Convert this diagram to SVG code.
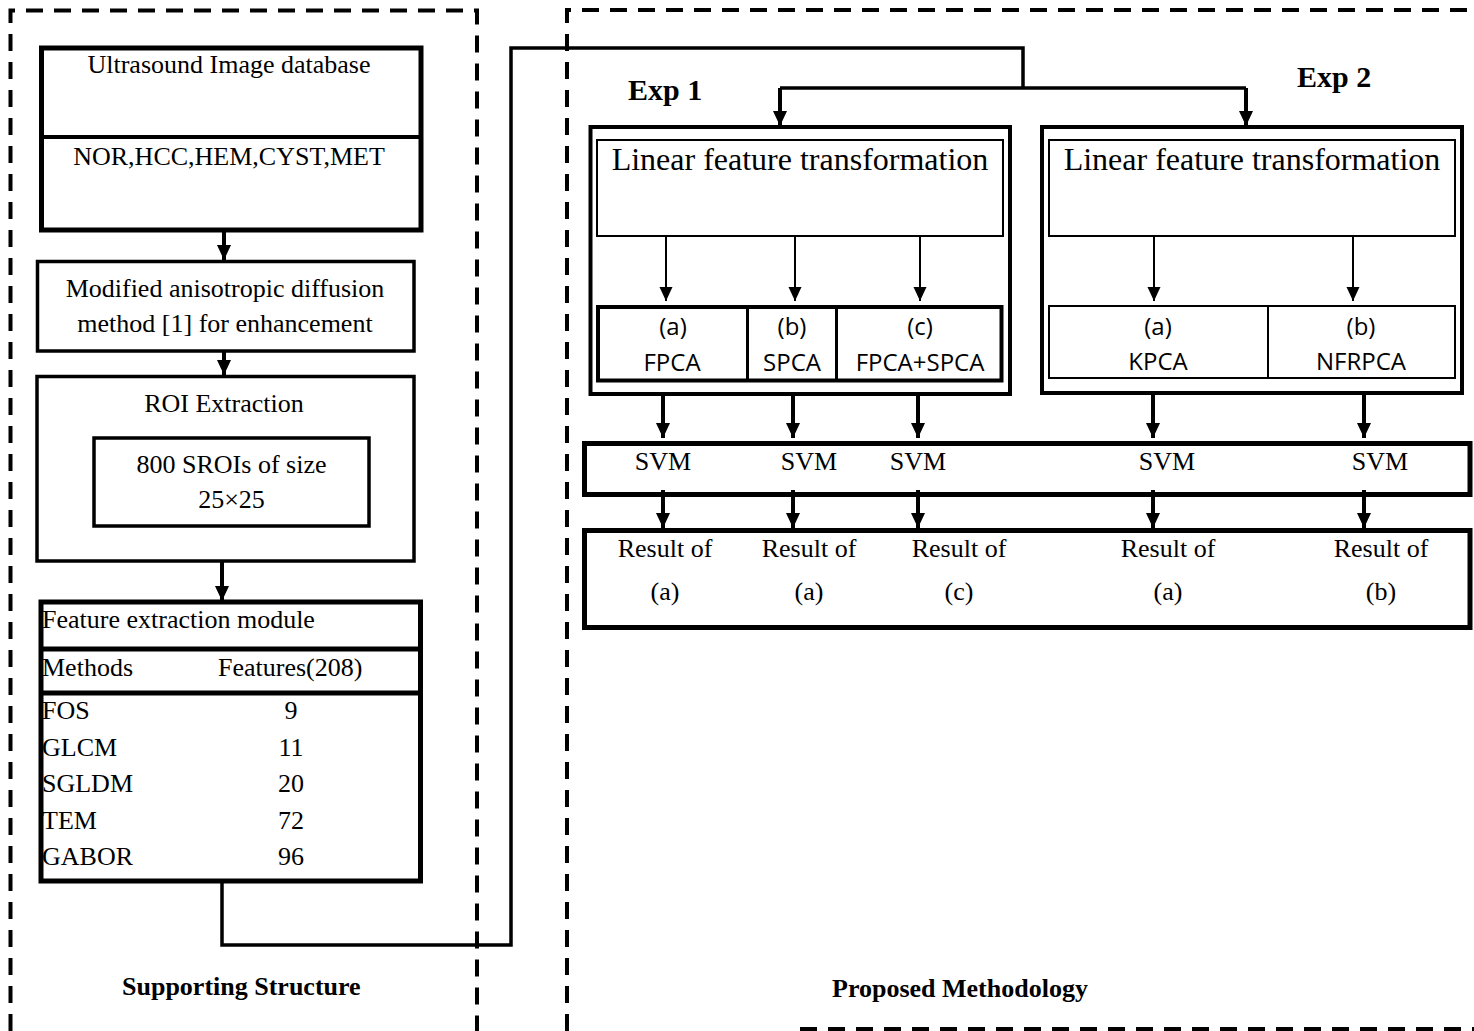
<svg xmlns="http://www.w3.org/2000/svg" width="1474" height="1031" viewBox="0 0 1474 1031">
<style>
.bg{fill:#fff}
.dash{fill:none;stroke:#000;stroke-width:4;stroke-dasharray:17 11}
.b{fill:#fff;stroke:#000}
.s{font-family:"Liberation Serif","Times New Roman",serif;font-size:26px;fill:#000}
.sc{text-anchor:middle}
.lft{font-family:"Liberation Serif","Times New Roman",serif;font-size:32px;fill:#000;text-anchor:middle}
.ss{font-family:"Open Sans","Noto Sans",sans-serif;font-size:24px;fill:#000;text-anchor:middle}
.bold{font-family:"Liberation Serif","Times New Roman",serif;font-weight:bold;fill:#000}
.conn{fill:none;stroke:#000;stroke-width:3.5}
.arr{stroke:#000;stroke-width:4}
.arrs{stroke:#000;stroke-width:2}
</style>
<defs>
<marker id="ah" markerUnits="userSpaceOnUse" markerWidth="16" markerHeight="16" refX="15" refY="7" orient="auto"><path d="M0,0 L15,7 L0,14 z" fill="#000"/></marker>
<marker id="ahs" markerUnits="userSpaceOnUse" markerWidth="16" markerHeight="16" refX="14" refY="6.5" orient="auto"><path d="M0,0 L14,6.5 L0,13 z" fill="#000"/></marker>
</defs>
<rect class="bg" x="0" y="0" width="1474" height="1031"/>

<g id="frames">
<path class="dash" d="M10.5,1031 V10.5 H477 V1031"/>
<path class="dash" d="M567,1031 V10 H1474"/>
<path class="dash" d="M800,1029 H1474"/>
</g>

<g id="database">
<rect class="b" x="41.5" y="48" width="379.5" height="182" stroke-width="5"/>
<line x1="41.5" y1="137" x2="421" y2="137" stroke="#000" stroke-width="4"/>
<text class="s sc" x="229" y="73">Ultrasound Image database</text>
<text class="s sc" x="229" y="165">NOR,HCC,HEM,CYST,MET</text>
</g>

<g id="diffusion">
<rect class="b" x="37.5" y="261.5" width="376.5" height="89.5" stroke-width="3.5"/>
<text class="s sc" x="225" y="297">Modified anisotropic diffusion</text>
<text class="s sc" x="225" y="332">method [1] for enhancement</text>
</g>

<g id="roi">
<rect class="b" x="37" y="376.5" width="377" height="184.5" stroke-width="3.5"/>
<text class="s sc" x="224" y="412">ROI Extraction</text>
<rect class="b" x="94" y="438" width="275" height="88" stroke-width="3.5"/>
<text class="s sc" x="231.5" y="473">800 SROIs of size</text>
<text class="s sc" x="231.5" y="508">25×25</text>
</g>

<g id="features">
<rect class="b" x="41" y="602" width="379.5" height="279" stroke-width="5"/>
<line x1="41" y1="649" x2="420.5" y2="649" stroke="#000" stroke-width="5"/>
<line x1="41" y1="693" x2="420.5" y2="693" stroke="#000" stroke-width="5"/>
<text class="s" x="42" y="628">Feature extraction module</text>
<text class="s" x="42" y="676">Methods</text>
<text class="s" x="218" y="676">Features(208)</text>
<text class="s" x="42" y="719">FOS</text>
<text class="s sc" x="291" y="719">9</text>
<text class="s" x="42" y="756">GLCM</text>
<text class="s sc" x="291" y="756">11</text>
<text class="s" x="42" y="792">SGLDM</text>
<text class="s sc" x="291" y="792">20</text>
<text class="s" x="42" y="829">TEM</text>
<text class="s sc" x="291" y="829">72</text>
<text class="s" x="42" y="865">GABOR</text>
<text class="s sc" x="291" y="865">96</text>
</g>

<g id="exp1">
<text class="bold" x="628" y="100" font-size="30">Exp 1</text>
<rect class="b" x="590.5" y="127" width="419.5" height="267" stroke-width="4"/>
<rect class="b" x="597" y="140" width="406" height="96" stroke-width="2"/>
<text class="lft" x="800" y="170">Linear feature transformation</text>
<rect class="b" x="598" y="307" width="403.5" height="73.5" stroke-width="4"/>
<line x1="747.5" y1="307" x2="747.5" y2="380.5" stroke="#000" stroke-width="3"/>
<line x1="836.5" y1="307" x2="836.5" y2="380.5" stroke="#000" stroke-width="3"/>
<text class="ss" x="673" y="335">(a)</text>
<text class="ss" x="672" y="371">FPCA</text>
<text class="ss" x="792" y="335">(b)</text>
<text class="ss" x="792" y="371">SPCA</text>
<text class="ss" x="920" y="335">(c)</text>
<text class="ss" x="920" y="371">FPCA+SPCA</text>
</g>

<g id="exp2">
<text class="bold" x="1297" y="87" font-size="30">Exp 2</text>
<rect class="b" x="1042" y="127" width="420" height="266" stroke-width="4"/>
<rect class="b" x="1049" y="140" width="406" height="96" stroke-width="2"/>
<text class="lft" x="1252" y="170">Linear feature transformation</text>
<rect class="b" x="1049" y="306" width="406" height="72" stroke-width="2"/>
<line x1="1268" y1="306" x2="1268" y2="378" stroke="#000" stroke-width="2"/>
<text class="ss" x="1158" y="335">(a)</text>
<text class="ss" x="1158" y="370">KPCA</text>
<text class="ss" x="1361" y="335">(b)</text>
<text class="ss" x="1361" y="370">NFRPCA</text>
</g>

<g id="svm">
<rect class="b" x="584.5" y="443.5" width="885.5" height="51" stroke-width="5"/>
<text class="s sc" x="663" y="470">SVM</text>
<text class="s sc" x="809" y="470">SVM</text>
<text class="s sc" x="918" y="470">SVM</text>
<text class="s sc" x="1167" y="470">SVM</text>
<text class="s sc" x="1380" y="470">SVM</text>
</g>

<g id="results">
<rect fill="none" stroke="#000" x="584.5" y="530.5" width="885.5" height="97" stroke-width="5"/>
<text class="s sc" x="665" y="557">Result of</text>
<text class="s sc" x="665" y="600">(a)</text>
<text class="s sc" x="809" y="557">Result of</text>
<text class="s sc" x="809" y="600">(a)</text>
<text class="s sc" x="959" y="557">Result of</text>
<text class="s sc" x="959" y="600">(c)</text>
<text class="s sc" x="1168" y="557">Result of</text>
<text class="s sc" x="1168" y="600">(a)</text>
<text class="s sc" x="1381" y="557">Result of</text>
<text class="s sc" x="1381" y="600">(b)</text>
</g>

<g id="captions">
<text class="bold" x="122" y="995" font-size="26">Supporting Structure</text>
<text class="bold" x="832" y="997" font-size="26">Proposed Methodology</text>
</g>

<g id="connectors">
<path class="conn" d="M222,881 V945 H511 V48 H1023 V88"/>
<path class="conn" d="M780,88 H1246"/>
<line class="arr" x1="780" y1="88" x2="780" y2="126" marker-end="url(#ah)"/>
<line class="arr" x1="1246" y1="88" x2="1246" y2="126" marker-end="url(#ah)"/>
<line class="arr" x1="224" y1="230" x2="224" y2="260" marker-end="url(#ah)"/>
<line class="arr" x1="224" y1="351" x2="224" y2="375" marker-end="url(#ah)"/>
<line class="arr" x1="222" y1="561" x2="222" y2="601" marker-end="url(#ah)"/>
<line class="arrs" x1="666" y1="236" x2="666" y2="301" marker-end="url(#ahs)"/>
<line class="arrs" x1="795" y1="236" x2="795" y2="301" marker-end="url(#ahs)"/>
<line class="arrs" x1="920" y1="236" x2="920" y2="301" marker-end="url(#ahs)"/>
<line class="arrs" x1="1154" y1="236" x2="1154" y2="301" marker-end="url(#ahs)"/>
<line class="arrs" x1="1353" y1="236" x2="1353" y2="301" marker-end="url(#ahs)"/>
<line class="arr" x1="663" y1="395" x2="663" y2="438" marker-end="url(#ah)"/>
<line class="arr" x1="793" y1="395" x2="793" y2="438" marker-end="url(#ah)"/>
<line class="arr" x1="918" y1="395" x2="918" y2="438" marker-end="url(#ah)"/>
<line class="arr" x1="1153" y1="395" x2="1153" y2="438" marker-end="url(#ah)"/>
<line class="arr" x1="1364" y1="395" x2="1364" y2="438" marker-end="url(#ah)"/>
<line class="arr" x1="663" y1="490" x2="663" y2="528" marker-end="url(#ah)"/>
<line class="arr" x1="793" y1="490" x2="793" y2="528" marker-end="url(#ah)"/>
<line class="arr" x1="918" y1="490" x2="918" y2="528" marker-end="url(#ah)"/>
<line class="arr" x1="1153" y1="490" x2="1153" y2="528" marker-end="url(#ah)"/>
<line class="arr" x1="1364" y1="490" x2="1364" y2="528" marker-end="url(#ah)"/>
</g>
</svg>
